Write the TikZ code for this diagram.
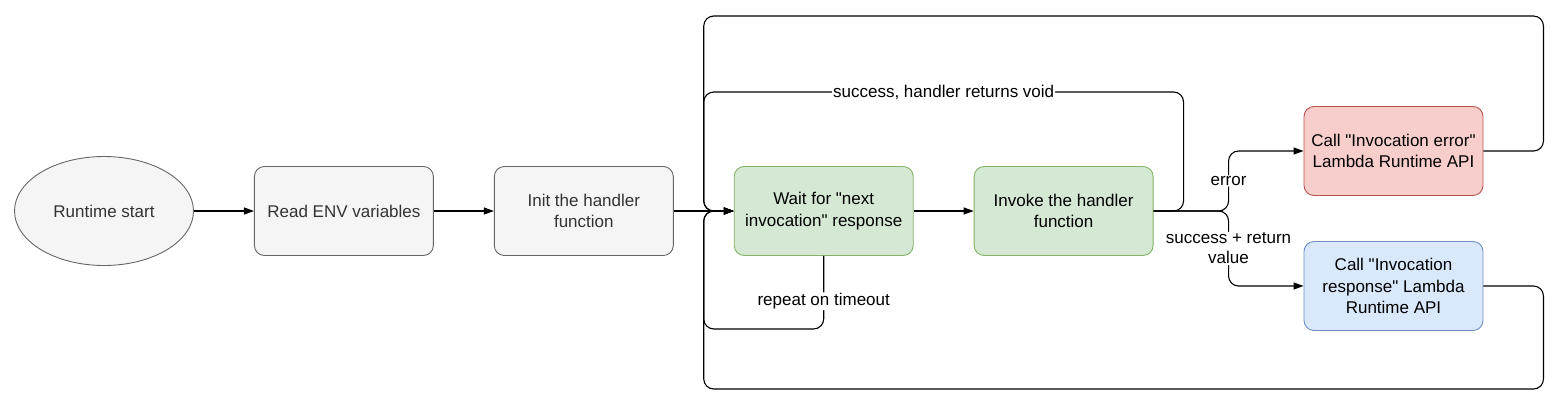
\documentclass[tikz,border=0pt]{standalone}
\usepackage{fontspec}
\setmainfont{Liberation Sans}
\usepackage{xcolor}
\usepackage{tikz}
\usetikzlibrary{arrows.meta,positioning,shapes.geometric,calc}
\definecolor{rtgray}{HTML}{F5F5F5}
\definecolor{rtgrayline}{HTML}{666666}
\definecolor{rttext}{HTML}{333333}
\definecolor{rtgreen}{HTML}{D5E8D4}
\definecolor{rtgreenline}{HTML}{82B366}
\definecolor{rtred}{HTML}{F8CECC}
\definecolor{rtredline}{HTML}{B85450}
\definecolor{rtblue}{HTML}{DAE8FC}
\definecolor{rtblueline}{HTML}{6C8EBF}
\newcommand{\qt}{\textquotedbl}
\tikzset{
  startnode/.style={ellipse, draw=rtgrayline, fill=rtgray, text=rttext, line width=0.9pt,
                    minimum width=179pt, minimum height=109pt, font=\fontsize{17}{21.5}\selectfont},
  box/.style={rectangle, rounded corners=10pt, line width=0.9pt, align=center,
              minimum width=179pt, minimum height=89pt, inner sep=3pt,
              font=\fontsize{17}{21.5}\selectfont},
  graybox/.style={box, draw=rtgrayline, fill=rtgray, text=rttext},
  greenbox/.style={box, draw=rtgreenline, fill=rtgreen},
  redbox/.style={box, draw=rtredline, fill=rtred},
  bluebox/.style={box, draw=rtblueline, fill=rtblue},
  lbl/.style={fill=white, inner sep=1pt, align=center, font=\fontsize{17}{20}\selectfont},
  ar/.style={-{Triangle[length=10pt,width=7pt]}, line width=1.1pt, rounded corners=10pt},
}
\begin{document}
\begin{tikzpicture}[x=1pt,y=-1pt,node distance=60pt]
\useasboundingbox (0,0) rectangle (1558,402);
\node[startnode] (start) at (104,211) {Runtime start};
\node[graybox,right=60pt of start] (read) {Read ENV variables};
\node[graybox,right=of read] (init) {Init the handler\\function};
\node[greenbox,right=of init] (wait) {Wait for \qt next\\invocation\qt{} response};
\node[greenbox,right=of wait] (inv) {Invoke the handler\\function};
\node[redbox,right=150pt of inv,yshift=60pt] (err) {Call \qt Invocation error\qt\\Lambda Runtime API};
\node[bluebox,right=150pt of inv,yshift=-75pt] (resp) {Call \qt Invocation\\response\qt{} Lambda\\Runtime API};

\coordinate (busx) at ($(wait.west)+(-30,0)$);
\draw[ar] (start) -- (read);
\draw[ar] (read) -- (init);
\draw[ar] (init) -- (wait);
\draw[ar] (wait) -- (inv);
% loops back to the wait node
\draw[ar] (err.east) -- ++(60,0) -- ++(0,-135) -| (busx) -- (wait.west);
\draw[ar] (resp.east) -- ++(60,0) -- ++(0,103) -| (busx) -- (wait.west);
\draw[ar] (inv.east) -- ++(30,0) -- ++(0,-119) coordinate (vr)
  -- node[lbl] {success, handler returns void} (vr -| busx) -- (busx) -- (wait.west);
\draw[ar] (wait.south) -- node[lbl,pos=0.62] {repeat on timeout} ++(0,73) coordinate (rb)
  -- (rb -| busx) -- (busx) -- (wait.west);
% result of the handler
\draw[ar] (inv.east) -- ++(75,0) |- node[lbl,pos=0.25] {error} (err.west);
\draw[ar] (inv.east) -- ++(75,0) |- node[lbl,pos=0.25] {success + return\\value} (resp.west);
\end{tikzpicture}
\end{document}
